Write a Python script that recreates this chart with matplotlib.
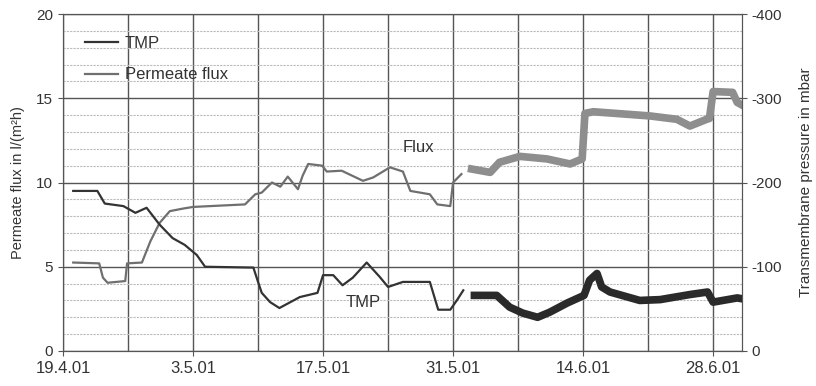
import numpy as np
import matplotlib
matplotlib.use("Agg")
import matplotlib.pyplot as plt
import matplotlib.dates as mdates
from matplotlib.ticker import MultipleLocator, FuncFormatter
from matplotlib.lines import Line2D
from datetime import datetime, timedelta

plt.rcParams['font.family'] = ['Liberation Sans', 'DejaVu Sans']
plt.rcParams['axes.unicode_minus'] = False

start = datetime(2001, 4, 19)

# days after 19.4.01 / values
flux_days_a = [1.1, 3.9, 4.3, 4.8, 6.7, 6.9, 8.5, 9.4, 10.4, 11.5, 12.9, 14.0, 19.6, 20.7, 21.4,
               22.5, 23.4, 24.2, 25.3, 25.8, 26.4, 27.9, 28.4, 30.0, 32.3, 33.4, 35.2, 36.6,
               37.4, 39.5, 40.3, 41.7, 42.0, 42.9]
flux_a = [5.25, 5.2, 4.35, 4.05, 4.15, 5.2, 5.25, 6.5, 7.6, 8.3, 8.45, 8.55, 8.7, 9.3, 9.4,
          10.0, 9.75, 10.35, 9.6, 10.4, 11.1, 11.0, 10.65, 10.7, 10.1, 10.3, 10.9, 10.65,
          9.5, 9.3, 8.7, 8.6, 10.0, 10.5]
flux_days_b = [44.0, 46.0, 47.0, 49.2, 52.1, 54.6, 55.9, 56.2, 57.1, 63.2, 66.1, 67.5, 69.3,
               69.6, 70.0, 72.1, 72.6, 73.1]
flux_b = [10.8, 10.6, 11.2, 11.55, 11.4, 11.1, 11.4, 14.1, 14.2, 13.95, 13.75, 13.35, 13.75,
          13.8, 15.4, 15.35, 14.75, 14.6]

tmp_days_a = [1.1, 3.7, 4.5, 6.5, 7.8, 9.0, 10.4, 11.8, 13.1, 14.4, 15.3, 20.5, 21.0, 21.4,
              22.3, 23.3, 25.5, 27.4, 28.0, 29.1, 30.1, 31.2, 32.7, 34.1, 35.0, 36.6, 39.5,
              40.4, 41.7, 42.4, 43.1]
tmp_a = [-190, -190, -175, -172, -164, -170, -150, -134, -126, -114, -100, -99, -82, -69,
         -58, -51, -64, -69, -90, -90, -78, -87, -105, -88, -76, -82, -82, -49, -49, -60, -72]
tmp_days_b = [44.3, 46.7, 48.1, 49.5, 51.1, 52.4, 54.3, 55.7, 56.1, 56.7, 57.5, 58.0, 58.9,
              62.1, 64.3, 67.5, 69.4, 70.0, 72.6, 73.1]
tmp_b = [-66, -66, -52, -45, -40, -46, -57, -64, -66, -84, -92, -76, -70, -60, -61, -67,
         -70, -58, -63, -62]

tick_days = [0, 14, 28, 42, 56, 70]
grid_days = [7, 21, 35, 49, 63]


def to_dates(days):
    return [start + timedelta(days=d) for d in days]


fig = plt.figure(figsize=(8.16, 3.86), dpi=100)
ax = fig.add_axes([0.0772, 0.0907, 0.832, 0.873])
ax2 = ax.twinx()

ax.set_ylim(0, 20)
ax2.set_ylim(0, -400)
ax.set_xlim(start, start + timedelta(days=73.1))

ax.yaxis.set_major_locator(MultipleLocator(5))
ax.yaxis.set_minor_locator(MultipleLocator(1))
ax2.yaxis.set_major_locator(MultipleLocator(100))
ax.set_xticks(to_dates(tick_days))
ax.set_xticks(to_dates(grid_days), minor=True)
ax.xaxis.set_major_formatter(FuncFormatter(
    lambda v, p: (lambda d: f"{d.day}.{d.month}.{d.strftime('%y')}")(mdates.num2date(v))))

ax.grid(True, which='major', color='#555555', lw=1.0)
ax.grid(True, which='minor', axis='x', color='#555555', lw=1.0)
ax.grid(True, which='minor', axis='y', color='#bbbbbb', lw=0.8, ls=(0, (2, 1)))
ax.set_axisbelow(True)

ax2.plot(to_dates(tmp_days_a), tmp_a, color='#333333', lw=1.6)
ax2.plot(to_dates(tmp_days_b), tmp_b, color='#2a2a2a', lw=5.5)
ax.plot(to_dates(flux_days_a), flux_a, color='#6f6f6f', lw=1.6)
ax.plot(to_dates(flux_days_b), flux_b, color='#8e8e8e', lw=5.5)

ax.text(start + timedelta(days=38.3), 12.1, 'Flux', fontsize=12, color='#333333', ha='center', va='center')
ax.text(start + timedelta(days=32.3), 2.9, 'TMP', fontsize=12, color='#333333', ha='center', va='center')

handles = [Line2D([], [], color='#333333', lw=1.6), Line2D([], [], color='#6f6f6f', lw=1.6)]
ax.legend(handles, ['TMP', 'Permeate flux'], loc='upper left', frameon=False, fontsize=12,
          handlelength=2.0, handletextpad=0.4, borderaxespad=0.9, labelspacing=1.0,
          bbox_to_anchor=(0.0, 1.0), labelcolor='#333333')

for a in (ax, ax2):
    for s in a.spines.values():
        s.set_color('#555555')
ax.tick_params(axis='both', which='both', colors='#555555', labelcolor='#333333', labelsize=11)
ax.tick_params(axis='x', labelsize=12)
ax.tick_params(axis='x', which='minor', length=0)
ax.tick_params(axis='y', which='minor', length=0)
ax2.tick_params(axis='y', colors='#555555', labelcolor='#333333', labelsize=11)

ax.set_ylabel('Permeate flux in l/(m²h)', fontsize=10.5, color='#333333', labelpad=8,
              family=['Liberation Sans Narrow', 'Liberation Sans', 'DejaVu Sans'])
ax2.set_ylabel('Transmembrane pressure in mbar', fontsize=11, color='#333333', labelpad=12)

fig.savefig('out.png', dpi=100)
